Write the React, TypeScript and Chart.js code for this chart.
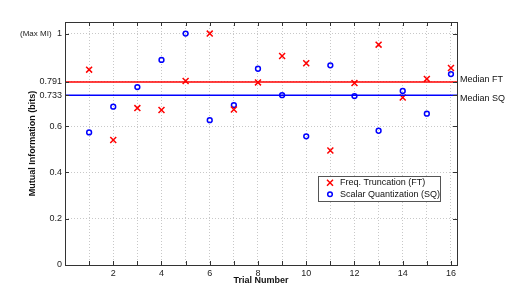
import React, { useEffect, useRef } from "react";
import { Chart, registerables } from "chart.js";

Chart.register(...registerables);

const trials = [1, 2, 3, 4, 5, 6, 7, 8, 9, 10, 11, 12, 13, 14, 15, 16];
const ftValues = [0.844, 0.540, 0.678, 0.670, 0.795, 1.0, 0.672, 0.789, 0.903, 0.872, 0.495, 0.786, 0.952, 0.724, 0.804, 0.851];
const sqValues = [0.573, 0.684, 0.769, 0.886, 1.0, 0.626, 0.691, 0.848, 0.734, 0.556, 0.863, 0.730, 0.580, 0.752, 0.654, 0.825];
const medianFT = 0.791;
const medianSQ = 0.733;
const yTickValues = [0, 0.2, 0.4, 0.6, 0.733, 0.791, 1];
const yTickLabels = ["0", "0.2", "0.4", "0.6", "0.733", "0.791", "1"];
const xTickValues = [0, 1, 2, 3, 4, 5, 6, 7, 8, 9, 10, 11, 12, 13, 14, 15, 16];
const xMin = 0;
const xMax = 16.25;
const yMin = 0;
const yMax = 1.05;
const legendLabels = ["Freq. Truncation (FT)", "Scalar Quantization (SQ)"];
const medianLabels = ["Median FT", "Median SQ"];
const xTitle = "Trial Number";
const yTitle = "Mutual Information (bits)";
const maxLabel = "(Max MI)";

const FONT = "'Liberation Sans', Arial, Helvetica, sans-serif";

export default function App() {
  const ref = useRef<HTMLCanvasElement | null>(null);

  useEffect(() => {
    const canvas = ref.current;
    if (!canvas) return;

    const overlay = {
      id: "overlay",
      afterDraw(chart: any) {
        const ctx = chart.ctx as CanvasRenderingContext2D;
        const { left, right, top, bottom } = chart.chartArea;
        const xs = chart.scales.x;
        const ys = chart.scales.y;
        ctx.save();
        // frame
        ctx.strokeStyle = "#333";
        ctx.lineWidth = 1;
        ctx.strokeRect(Math.round(left) + 0.5, Math.round(top) + 0.5, Math.round(right - left), Math.round(bottom - top));
        // inner tick marks
        ctx.beginPath();
        const tl = 4;
        xTickValues.forEach((v) => {
          const px = Math.round(xs.getPixelForValue(v)) + 0.5;
          ctx.moveTo(px, bottom);
          ctx.lineTo(px, bottom - tl);
          ctx.moveTo(px, top);
          ctx.lineTo(px, top + tl);
        });
        yTickValues.forEach((v) => {
          const py = Math.round(ys.getPixelForValue(v)) + 0.5;
          ctx.moveTo(left, py);
          ctx.lineTo(left + tl, py);
          ctx.moveTo(right, py);
          ctx.lineTo(right - tl, py);
        });
        ctx.stroke();

        // (Max MI)
        ctx.fillStyle = "#222";
        ctx.font = `8px ${FONT}`;
        ctx.textAlign = "left";
        ctx.textBaseline = "middle";
        ctx.fillText(maxLabel, 20, ys.getPixelForValue(1));

        // median labels
        ctx.font = `9px ${FONT}`;
        ctx.fillStyle = "#111";
        ctx.fillText(medianLabels[0], right + 3, ys.getPixelForValue(medianFT) - 2.5);
        ctx.fillText(medianLabels[1], right + 3, ys.getPixelForValue(medianSQ) + 3);

        // axis titles
        ctx.font = `bold 9px ${FONT}`;
        ctx.textAlign = "center";
        ctx.fillText(xTitle, (left + right) / 2, 281);
        ctx.save();
        ctx.translate(33, (top + bottom) / 2);
        ctx.rotate(-Math.PI / 2);
        ctx.fillText(yTitle, 0, 0);
        ctx.restore();

        // legend
        const lx = 318.5, ly = 176.5, lw = 122, lh = 25;
        ctx.fillStyle = "#fff";
        ctx.fillRect(lx, ly, lw, lh);
        ctx.strokeStyle = "#555";
        ctx.lineWidth = 1;
        ctx.strokeRect(lx, ly, lw, lh);
        // FT marker
        const mx = 330, my1 = 182.7, my2 = 194.2;
        ctx.strokeStyle = "#ff0000";
        ctx.lineWidth = 1.5;
        ctx.beginPath();
        ctx.moveTo(mx - 3, my1 - 3);
        ctx.lineTo(mx + 3, my1 + 3);
        ctx.moveTo(mx + 3, my1 - 3);
        ctx.lineTo(mx - 3, my1 + 3);
        ctx.stroke();
        ctx.strokeStyle = "#0000ff";
        ctx.beginPath();
        ctx.arc(mx, my2, 2.3, 0, Math.PI * 2);
        ctx.stroke();
        ctx.fillStyle = "#111";
        ctx.font = `9px ${FONT}`;
        ctx.textAlign = "left";
        ctx.fillText(legendLabels[0], 340, my1);
        ctx.fillText(legendLabels[1], 340, my2);
        ctx.restore();
      },
    };

    const chart = new Chart(canvas, {
      type: "scatter",
      data: {
        datasets: [
          {
            label: medianLabels[0],
            type: "line",
            data: [
              { x: xMin, y: medianFT },
              { x: xMax, y: medianFT },
            ],
            borderColor: "#ff0000",
            borderWidth: 1.5,
            pointRadius: 0,
            fill: false,
          } as any,
          {
            label: medianLabels[1],
            type: "line",
            data: [
              { x: xMin, y: medianSQ },
              { x: xMax, y: medianSQ },
            ],
            borderColor: "#0000ff",
            borderWidth: 1.5,
            pointRadius: 0,
            fill: false,
          } as any,
          {
            label: legendLabels[0],
            data: trials.map((t, i) => ({ x: t, y: ftValues[i] })),
            pointStyle: "crossRot",
            pointRadius: 4.2,
            borderColor: "#ff0000",
            backgroundColor: "#ff0000",
            pointBorderWidth: 1.5,
          } as any,
          {
            label: legendLabels[1],
            data: trials.map((t, i) => ({ x: t, y: sqValues[i] })),
            pointStyle: "circle",
            pointRadius: 2.4,
            borderColor: "#0000ff",
            backgroundColor: "rgba(0,0,0,0)",
            pointBorderWidth: 1.5,
          } as any,
        ],
      },
      options: {
        responsive: false,
        animation: false,
        layout: { padding: { left: 0, right: 48, top: 22, bottom: 0 } },
        plugins: {
          legend: { display: false },
          tooltip: { enabled: false },
        },
        scales: {
          x: {
            type: "linear",
            min: xMin,
            max: xMax,
            afterBuildTicks: (scale: any) => {
              scale.ticks = xTickValues.map((v) => ({ value: v }));
            },
            afterFit: (scale: any) => {
              scale.height = 33;
            },
            grid: {
              color: "#c8c8c8",
              lineWidth: 1,
              drawTicks: false,
              tickBorderDash: [1, 2],
            } as any,
            border: { display: false, dash: [1, 2] },
            ticks: {
              autoSkip: false,
              maxRotation: 0,
              padding: 3,
              color: "#222",
              font: { family: FONT, size: 9 },
              callback: (value: any) => (Number(value) > 0 && Number(value) % 2 === 0 ? String(value) : ""),
            },
          },
          y: {
            type: "linear",
            min: yMin,
            max: yMax,
            afterBuildTicks: (scale: any) => {
              scale.ticks = yTickValues.map((v) => ({ value: v }));
            },
            afterFit: (scale: any) => {
              scale.width = 65;
            },
            grid: {
              color: "#c8c8c8",
              lineWidth: 1,
              drawTicks: false,
            },
            border: { display: false, dash: [1, 2] },
            ticks: {
              autoSkip: false,
              padding: 3,
              color: "#222",
              font: { family: FONT, size: 9 },
              callback: (_v: any, index: number) => yTickLabels[index] ?? "",
            },
          },
        },
      },
      plugins: [overlay],
    });

    return () => chart.destroy();
  }, []);

  return (
    <div style={{ position: "fixed", left: 0, top: 0, width: 505, height: 298, background: "#fff" }}>
      <canvas ref={ref} width={505} height={298} style={{ width: 505, height: 298 }} />
    </div>
  );
}
